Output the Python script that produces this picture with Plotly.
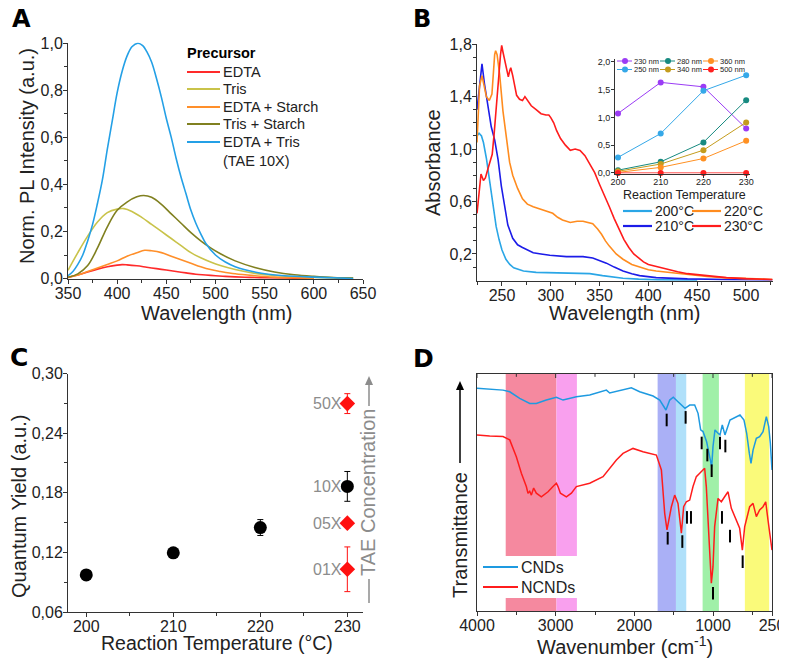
import plotly.graph_objects as go

W, H = 787, 660
OFF = 8  # page body margin of the html page
FONT = "Liberation Sans"

# ---------------- Panel A data ----------------
a_names = ["EDTA", "Tris", "EDTA + Starch", "Tris + Starch", "EDTA + Tris<br>(TAE 10X)"]
a_colors = ["#ff2a2a", "#c9c34a", "#ff8f2a", "#808020", "#24a0e6"]
a_edta_x = [350,360,370,380,390,400,405,410,420,430,440,450,460,470,480,490,500,510,520,535,550,570,600]
a_edta_y = [0.005,0.015,0.028,0.04,0.05,0.057,0.059,0.058,0.054,0.048,0.042,0.036,0.03,0.024,0.018,0.015,0.012,0.009,0.007,0.005,0.003,0.002,0.0]
a_tris_x = [350,360,370,380,390,400,407,415,425,435,445,455,465,475,485,495,505,520,540,560,580,600,620,640]
a_tris_y = [0.035,0.11,0.18,0.24,0.28,0.295,0.297,0.285,0.26,0.23,0.2,0.17,0.14,0.11,0.088,0.07,0.055,0.038,0.022,0.013,0.008,0.005,0.003,0.002]
a_es_x = [350,360,370,380,390,400,410,420,428,435,445,455,465,475,485,495,505,520,540,560,580,600]
a_es_y = [0.005,0.015,0.03,0.045,0.06,0.075,0.095,0.11,0.12,0.118,0.11,0.095,0.08,0.065,0.05,0.038,0.03,0.02,0.012,0.006,0.003,0.001]
a_ts_x = [350,360,370,380,390,400,410,420,427,435,445,455,465,475,485,495,505,520,540,560,580,600,620,640]
a_ts_y = [0.005,0.02,0.055,0.13,0.22,0.29,0.325,0.347,0.353,0.345,0.315,0.275,0.235,0.195,0.16,0.13,0.105,0.075,0.047,0.028,0.016,0.009,0.004,0.002]
a_et_x = [350,355,360,365,370,375,380,385,390,395,400,405,410,415,421,426,430,435,440,445,450,455,460,465,470,475,480,485,490,500,510,520,530,540,550,570,600,620,640]
a_et_y = [0.012,0.03,0.06,0.1,0.16,0.23,0.32,0.42,0.55,0.67,0.79,0.88,0.945,0.985,1.0,0.99,0.965,0.92,0.85,0.77,0.68,0.6,0.51,0.43,0.36,0.29,0.235,0.19,0.15,0.1,0.07,0.05,0.037,0.028,0.02,0.012,0.006,0.003,0.0]
a_xs = [a_edta_x, a_tris_x, a_es_x, a_ts_x, a_et_x]
a_ys = [a_edta_y, a_tris_y, a_es_y, a_ts_y, a_et_y]

# ---------------- Panel B data ----------------
b_names = ["200°C", "210°C", "220°C", "230°C"]
b_colors = ["#2aa6e6", "#1c1ce8", "#ff8c1f", "#ff1c1c"]
b_200_x = [224.4,226.5,229,231,234,237.3,240.7,244,247,250,254,258,262,267,272,285,305,326,340,353,365,374,390,410,450]
b_200_y = [1.1,1.12,1.1,1.05,0.93,0.75,0.56,0.41,0.31,0.23,0.16,0.12,0.095,0.08,0.07,0.06,0.055,0.055,0.05,0.035,0.025,0.015,0.008,0.004,0.002]
b_210_x = [224.4,227,229.5,232,235.7,239,242.5,246,249.3,252.7,256,261,266,271,282,290,299,316,333,343,350,357,365,374,383,391,408,440,480,527]
b_210_y = [1.3,1.46,1.65,1.5,1.33,1.17,1.07,0.92,0.72,0.55,0.42,0.32,0.27,0.25,0.21,0.2,0.19,0.18,0.18,0.17,0.15,0.13,0.1,0.07,0.05,0.035,0.02,0.01,0.005,0.003]
b_220_x = [224.4,227,229.5,232,234,237,239.7,242.5,243.5,245,247.6,251,254.4,257.8,261,266,271,276,282,290,295,302,307,312,320,327,333,343,348,352,356,360,367,374,383,391,400,408,425,440,460,480,500,527]
b_220_y = [1.05,1.48,1.56,1.46,1.4,1.37,1.42,1.72,1.75,1.72,1.57,1.29,1.07,0.9,0.8,0.7,0.62,0.58,0.56,0.54,0.53,0.51,0.48,0.46,0.44,0.45,0.45,0.43,0.39,0.35,0.3,0.26,0.2,0.16,0.12,0.1,0.08,0.07,0.055,0.04,0.028,0.018,0.012,0.006]
b_230_x = [224.4,227,228.5,231,233,236,240,242,244.5,247,248.5,249.7,251,253,255,256.5,258,259,261,263,265,268,271,273.5,276,280,285,290,295,298,300,303,306,310,315,320,325,330,335,340,345,350,355,360,365,370,375,380,385,390,395,400,410,420,430,440,460,480,500,527]
b_230_y = [0.51,0.72,0.81,0.76,0.78,0.86,0.96,1.12,1.32,1.58,1.72,1.79,1.74,1.66,1.6,1.55,1.6,1.62,1.56,1.47,1.41,1.38,1.37,1.4,1.37,1.33,1.3,1.27,1.26,1.26,1.24,1.2,1.14,1.08,1.03,0.99,1.0,0.99,0.95,0.89,0.82,0.73,0.65,0.56,0.47,0.39,0.31,0.25,0.2,0.17,0.14,0.12,0.1,0.08,0.065,0.05,0.033,0.02,0.012,0.006]
b_xs = [b_200_x, b_210_x, b_220_x, b_230_x]
b_ys = [b_200_y, b_210_y, b_220_y, b_230_y]

# inset
in_temps = [200, 210, 220, 230]
in_names = ["230 nm", "250 nm", "280 nm", "340 nm", "360 nm", "500 nm"]
in_colors = ["#9b3cf5", "#35a8e8", "#178a80", "#c49c1e", "#ff9022", "#ff2020"]
in_230 = [1.07, 1.63, 1.55, 0.80]
in_250 = [0.28, 0.71, 1.48, 1.76]
in_280 = [0.05, 0.20, 0.55, 1.31]
in_340 = [0.03, 0.16, 0.41, 0.91]
in_360 = [0.01, 0.10, 0.26, 0.58]
in_500 = [0.0, 0.0, 0.0, 0.0]
in_vals = [in_230, in_250, in_280, in_340, in_360, in_500]

# ---------------- Panel C data ----------------
c_temp = [200, 210, 220, 230]
c_qy = [0.0973, 0.1195, 0.145, 0.1864]
c_qy_err = [0.002, 0.002, 0.008, 0.015]
c_tae_temp = [230, 230, 230]
c_tae_qy = [0.2697, 0.1494, 0.103]
c_tae_err = [0.010, 0.002, 0.0225]
c_labels = ["50X", "10X", "05X", "01X"]
c_label_y = [0.2697, 0.1864, 0.1494, 0.103]

# ---------------- Panel D data ----------------
d_cnd_x = [4000,3839,3669,3584,3457,3330,3246,3119,2991,2906,2737,2567,2355,2313,2144,2038,1932,1762,1677,1635,1598,1550,1505,1445,1356,1296,1233,1190,1157,1127,1081,1051,1017,1000,975,936,911,882,848,784,657,606,572,538,517,491,449,407,364,322,292,271,250]
d_cnd_y = [94,93.5,93.2,92.5,89.7,87.6,87.6,89,90.2,89,90.4,91.1,93.2,92,93.2,94.2,92.5,90.7,89,86.9,84.8,89,90.2,88.3,85.5,86.9,86.9,83.4,76.4,75.7,71.4,66.5,60.9,69.3,76.4,75,74.3,78.5,74.3,80.6,82.7,80.6,75,66.5,62.3,67.9,72.9,73.6,75.7,82,77.8,70.8,59.5]
d_ncnd_x = [4000,3839,3669,3584,3500,3436,3373,3352,3330,3309,3280,3246,3182,3097,3034,2991,2970,2940,2864,2800,2737,2567,2398,2228,2144,2017,1890,1720,1656,1614,1585,1529,1487,1445,1402,1373,1339,1296,1254,1212,1169,1127,1106,1085,1063,1042,1021,1000,979,936,894,852,809,767,703,661,627,597,534,491,449,407,364,330,301,280,250]
d_ncnd_y = [74.3,73.8,73.6,72.2,65.1,58.1,52.5,49.7,50.5,48.9,51.9,49.7,48.2,50.3,52.5,53.9,52.5,49.7,48.2,49.7,52.5,53.9,56.7,63.7,66.5,68.6,67.2,65.8,59.5,41.2,34.2,44,48.9,45.4,32.8,44,46.1,46.8,52.5,56.7,58.1,59.5,60.2,52.5,38.4,24.3,11.7,18.7,35.6,47.5,46.1,48.2,50.3,43.3,38.4,34.9,25.7,35.6,44,45.4,39.8,42.6,44,46.1,38.4,32.8,25.7]
d_cnd_peak_x = [1589, 1348, 1144, 1072, 1017, 911, 843]
d_cnd_peak_y = [80.6, 81.7, 70.9, 65.8, 59.2, 70.9, 69.6]
d_ncnd_peak_x = [1576, 1390, 1331, 1280, 1000, 886, 784, 623]
d_ncnd_peak_y = [30.7, 29.3, 39.5, 39.5, 7.5, 39.5, 31.6, 20.8]
d_band_x0 = [3635, 2990, 1704, 1471, 1132, 595]
d_band_x1 = [2990, 2730, 1471, 1340, 925, 286]
d_band_colors = ["#f5899f", "#f9a0ee", "#aab0f6", "#b0e0fa", "#a0f0a8", "#fafa7a"]
d_names = ["CNDs", "NCNDs"]
d_colors = ["#1e9ae0", "#ff1c1c"]
d_ticks = [4000, 3000, 2000, 1000, 250]
d_minor = [3500, 2500, 1500, 500]


def px(x):
    return (x - OFF) / W


def py(y):
    return 1 - (y - OFF) / H


fig = go.Figure()

for n, c, xs, ys in zip(a_names, a_colors, a_xs, a_ys):
    fig.add_trace(go.Scatter(x=xs, y=ys, mode="lines", name=n, line=dict(color=c, width=1.6, shape="spline"),
                             showlegend=False, xaxis="x", yaxis="y"))
for n, c, xs, ys in zip(b_names, b_colors, b_xs, b_ys):
    fig.add_trace(go.Scatter(x=xs, y=ys, mode="lines", name=n, line=dict(color=c, width=1.6),
                             showlegend=False, xaxis="x2", yaxis="y2"))
for n, c, v in zip(in_names, in_colors, in_vals):
    fig.add_trace(go.Scatter(x=in_temps, y=v, mode="lines+markers", name=n, line=dict(color=c, width=1),
                             marker=dict(color=c, size=6), showlegend=False, xaxis="x5", yaxis="y5", cliponaxis=False))
fig.add_trace(go.Scatter(x=c_temp, y=c_qy, mode="markers", marker=dict(color="black", size=13, symbol="circle"),
                         error_y=dict(type="data", array=c_qy_err, color="black", thickness=1, width=3),
                         showlegend=False, xaxis="x3", yaxis="y3"))
fig.add_trace(go.Scatter(x=c_tae_temp, y=c_tae_qy, mode="markers", marker=dict(color="#ff1010", size=12, symbol="diamond"),
                         error_y=dict(type="data", array=c_tae_err, color="#ff1010", thickness=1, width=3),
                         showlegend=False, xaxis="x3", yaxis="y3"))
fig.add_trace(go.Scatter(x=d_cnd_x, y=d_cnd_y, mode="lines", name="CNDs", line=dict(color=d_colors[0], width=1.5),
                         showlegend=False, xaxis="x4", yaxis="y4"))
fig.add_trace(go.Scatter(x=d_ncnd_x, y=d_ncnd_y, mode="lines", name="NCNDs", line=dict(color=d_colors[1], width=1.5),
                         showlegend=False, xaxis="x4", yaxis="y4"))
fig.add_trace(go.Scatter(x=d_cnd_peak_x + d_ncnd_peak_x, y=d_cnd_peak_y + d_ncnd_peak_y, mode="markers",
                         marker=dict(symbol="line-ns", size=9, line=dict(width=2, color="black")),
                         showlegend=False, xaxis="x4", yaxis="y4"))

shapes = []
annotations = []

for i, (x0, x1, col) in enumerate(zip(d_band_x0, d_band_x1, d_band_colors)):
    if i < 2:
        shapes.append(dict(type="rect", xref="x4", yref="y4", x0=x0, x1=x1, y0=23.2, y1=100,
                           fillcolor=col, line=dict(width=0), layer="below"))
        shapes.append(dict(type="rect", xref="x4", yref="y4", x0=x0, x1=x1, y0=0, y1=5.5,
                           fillcolor=col, line=dict(width=0), layer="below"))
    else:
        shapes.append(dict(type="rect", xref="x4", yref="y4", x0=x0, x1=x1, y0=0, y1=100,
                           fillcolor=col, line=dict(width=0), layer="below"))
# inward ticks on the top frame of panel D
for t in d_ticks + d_minor:
    shapes.append(dict(type="line", xref="x4", yref="y4", x0=t, x1=t, y0=100, y1=98.3 if t in d_ticks else 98.8,
                       line=dict(color="#333", width=1)))


def ann(text, x, y, size=16, color="#222", xanchor="center", yanchor="middle", angle=0, bold=False, family=FONT):
    annotations.append(dict(text=text, x=px(x), y=py(y), xref="paper", yref="paper", showarrow=False,
                            xanchor=xanchor, yanchor=yanchor, textangle=angle, borderpad=0,
                            font=dict(size=size, color=color, family=family, weight="bold" if bold else "normal")))


def legline(x0, x1, y, color, width=2):
    shapes.append(dict(type="line", xref="paper", yref="paper", x0=px(x0), x1=px(x1), y0=py(y), y1=py(y),
                       line=dict(color=color, width=width)))


def arrowhead(x, ytop, color, w=4, h=9):
    shapes.append(dict(type="path", xref="paper", yref="paper",
                       path="M {} {} L {} {} L {} {} Z".format(px(x), py(ytop), px(x - w), py(ytop + h), px(x + w), py(ytop + h)),
                       fillcolor=color, line=dict(color=color, width=0)))


# panel letters
ann("A", 21, 19, size=24, color="black", bold=True, family="DejaVu Sans")
ann("B", 422, 19, size=24, color="black", bold=True, family="DejaVu Sans")
ann("C", 19, 357, size=25, color="black", bold=True, family="DejaVu Sans")
ann("D", 423, 358, size=25, color="black", bold=True, family="DejaVu Sans")

# axis titles
ann("Norm. PL Intensity (a.u.)", 27, 156, size=20, angle=-90)
ann("Wavelength (nm)", 217, 313, size=20)
ann("Absorbance", 433, 163, size=20, angle=-90)
ann("Wavelength (nm)", 625, 313, size=20)
ann("Quantum Yield (a.u.)", 19, 507, size=20, angle=-90)
ann("Reaction Temperature (°C)", 217, 643, size=19.5)
ann("Wavenumber (cm<sup>-1</sup>)", 625, 645, size=20)
ann("Transmittance", 460, 535, size=20, angle=-90)
ann("Reaction Temperature", 684, 195, size=12.5)

# A legend
ann("Precursor", 186, 53, size=14.5, color="black", xanchor="left", bold=True)
a_leg_y = [72, 89, 107, 124, 142]
for n, c, yy in zip(a_names, a_colors, a_leg_y):
    legline(187, 220, yy, c)
    ann(n.split("<br>")[0], 222, yy, size=14.5, xanchor="left")
ann("(TAE 10X)", 222, 161, size=14.5, xanchor="left")

# B legend
b_leg_pos = [(623, 211), (623, 226), (692, 211), (692, 226)]
for n, c, (lx, ly) in zip(b_names, b_colors, b_leg_pos):
    legline(lx, lx + 29, ly, c, 2.2)
    ann(n, lx + 31, ly, size=14, xanchor="left")

# inset legend
in_leg_pos = [(617, 61), (617, 69.5), (660, 61), (660, 69.5), (703, 61), (703, 69.5)]
for n, c, (lx, ly) in zip(in_names, in_colors, in_leg_pos):
    legline(lx, lx + 15, ly, c, 1)
    shapes.append(dict(type="circle", xref="paper", yref="paper", x0=px(lx + 5), x1=px(lx + 11),
                       y0=py(ly + 3), y1=py(ly - 3), fillcolor=c, line=dict(color=c, width=0)))
    ann(n, lx + 16, ly, size=7.5, xanchor="left")

# D legend
d_leg_y = [567, 587]
for n, c, yy in zip(d_names, d_colors, d_leg_y):
    legline(483, 518, yy, c)
    ann(n, 520, yy, size=16, xanchor="left")

# C labels
for t, yv in zip(c_labels, c_label_y):
    annotations.append(dict(text=t, x=229.55, y=yv, xref="x3", yref="y3", showarrow=False, xanchor="right",
                            yanchor="middle", borderpad=0, font=dict(size=16, color="#8c8c8c", family=FONT)))
# TAE concentration vertical text + arrow
ann("TAE Concentration", 368, 492, size=20, color="#8c8c8c", angle=-90)
shapes.append(dict(type="line", xref="paper", yref="paper", x0=px(369), x1=px(369), y0=py(603), y1=py(579),
                   line=dict(color="#8c8c8c", width=1.5)))
shapes.append(dict(type="line", xref="paper", yref="paper", x0=px(369), x1=px(369), y0=py(406), y1=py(384),
                   line=dict(color="#8c8c8c", width=1.5)))
arrowhead(369, 376, "#8c8c8c")
# Transmittance arrow
shapes.append(dict(type="line", xref="paper", yref="paper", x0=px(460), x1=px(460), y0=py(463), y1=py(389),
                   line=dict(color="black", width=1.5)))
arrowhead(460, 381, "black")

axbase = dict(showline=True, linecolor="#333", linewidth=1, ticks="outside", ticklen=4, tickcolor="#333",
              showgrid=False, zeroline=False, automargin=False, tickfont=dict(size=16, color="#222", family=FONT))
xcommon = dict(axbase, ticklabelstandoff=-4)
ycommon = dict(axbase, ticklabelstandoff=-3)
minor_o = dict(ticks="outside", ticklen=3, tickcolor="#333")

fig.update_layout(
    width=W, height=H, margin=dict(l=0, r=0, t=0, b=0, pad=0, autoexpand=False),
    paper_bgcolor="white", plot_bgcolor="white",
    separators=", ",
    font=dict(family=FONT, color="#222"),
    showlegend=False,
    xaxis=dict(domain=[px(68), px(363)], range=[350, 650], dtick=50, anchor="y",
               minor=dict(minor_o, dtick=25), **xcommon),
    yaxis=dict(domain=[py(279), py(42.5)], range=[-0.002, 1.003], dtick=0.2, tickformat=".1f", anchor="x",
               minor=dict(minor_o, dtick=0.1), **ycommon),
    xaxis2=dict(domain=[px(477), px(773)], range=[224.4, 527.7], tickvals=[250, 300, 350, 400, 450, 500], anchor="y2",
                minor=dict(minor_o, dtick=25), **xcommon),
    yaxis2=dict(domain=[py(281), py(43.5)], range=[-0.006, 1.805], tickvals=[0.2, 0.6, 1.0, 1.4, 1.8],
                tickformat=".1f", anchor="x2",
                minor=dict(minor_o, tickvals=[0.1, 0.3, 0.4, 0.5, 0.7, 0.8, 0.9, 1.1, 1.2, 1.3, 1.5, 1.6, 1.7]),
                **ycommon),
    xaxis3=dict(domain=[px(68), px(363)], range=[197.9, 231.8], dtick=10, anchor="y3",
                minor=dict(minor_o, dtick=5), **xcommon),
    yaxis3=dict(domain=[py(612), py(373.5)], range=[0.06, 0.3], dtick=0.06, tick0=0.06, tickformat=".2f", anchor="x3",
                minor=dict(minor_o, dtick=0.03), **ycommon),
    xaxis4=dict(domain=[px(477), px(772)], range=[4000, 250], tickvals=d_ticks,
                ticktext=[str(t) for t in d_ticks], anchor="y4", mirror=True,
                minor=dict(minor_o, tickvals=d_minor), **xcommon),
    yaxis4=dict(domain=[py(611), py(374)], range=[0, 100], anchor="x4", showline=True, linecolor="#333",
                linewidth=1, mirror=True, showticklabels=False, ticks="", showgrid=False, zeroline=False, automargin=False),
    xaxis5=dict(domain=[px(615), px(750)], range=[199.3, 230.9], tickvals=[200, 210, 220, 230], anchor="y5",
                showline=True, linecolor="#333", linewidth=1, ticks="outside", ticklen=3, tickcolor="#333",
                ticklabelstandoff=-3,
                showgrid=False, zeroline=False, automargin=False, tickfont=dict(size=9, color="#222", family=FONT)),
    yaxis5=dict(domain=[py(173.5), py(58.5)], range=[-0.01, 2.06], tickvals=[0, 0.5, 1.0, 1.5, 2.0], tickformat=".1f",
                anchor="x5", showline=True, linecolor="#333", linewidth=1, ticks="outside", ticklen=3, tickcolor="#333",
                ticklabelstandoff=-1,
                showgrid=False, zeroline=False, automargin=False, tickfont=dict(size=9, color="#222", family=FONT)),
    shapes=shapes,
    annotations=annotations,
)

fig.write_html("out.html")
